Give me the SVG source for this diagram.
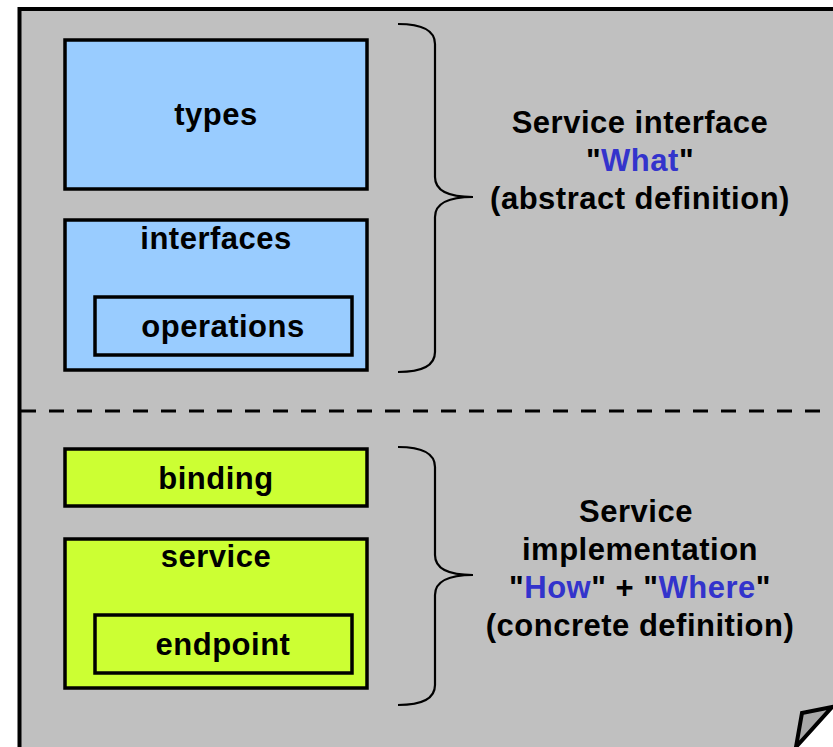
<svg xmlns="http://www.w3.org/2000/svg" width="833" height="747" viewBox="0 0 833 747">
<style>
.t{font-family:"Liberation Sans",Arial,sans-serif;font-weight:bold;font-size:31px;letter-spacing:0.5px;fill:#000;text-anchor:middle}
.hl{fill:#3333cc}
.bx{stroke:#000;stroke-width:3.5}
.blue{fill:#99ccff}
.green{fill:#ccff33}
.brace{fill:none;stroke:#000;stroke-width:2.2}
</style>
<rect width="833" height="747" fill="#fff"/>
<g id="page">
<rect x="19.5" y="9" width="830" height="760" fill="#c0c0c0" stroke="#000" stroke-width="4"/>
<polygon points="833,707 833,747 795,747" fill="#fff"/>
<polygon points="802,713 832,707 796,747" fill="#a8a8a8" stroke="#000" stroke-width="4" stroke-linejoin="miter"/>
</g>
<g id="connectors">
<line x1="21" y1="411" x2="833" y2="411" stroke="#000" stroke-width="3" stroke-dasharray="15 13"/>
<path class="brace" d="M398,24 Q435,24 435,44 L435,177 Q435,197 473,197 Q435,197 435,217 L435,352 Q435,372 398,372"/>
<path class="brace" d="M398,447 Q435,447 435,467 L435,555 Q435,575 473,575 Q435,575 435,595 L435,685 Q435,705 398,705"/>
</g>
<g id="types">
<rect class="bx blue" x="65" y="40" width="302" height="149"/>
<text class="t" x="216" y="125">types</text>
</g>
<g id="interfaces">
<rect class="bx blue" x="65" y="220" width="302" height="150"/>
<text class="t" x="216" y="249">interfaces</text>
</g>
<g id="operations">
<rect class="bx blue" x="95" y="297" width="257" height="58"/>
<text class="t" x="223" y="337">operations</text>
</g>
<g id="binding">
<rect class="bx green" x="65" y="449" width="302" height="57"/>
<text class="t" x="216" y="489">binding</text>
</g>
<g id="service">
<rect class="bx green" x="65" y="539" width="302" height="149"/>
<text class="t" x="216" y="567">service</text>
</g>
<g id="endpoint">
<rect class="bx green" x="95" y="615" width="257" height="58"/>
<text class="t" x="223" y="655">endpoint</text>
</g>
<g id="label-interface">
<text class="t" x="640" y="133">Service interface</text>
<text class="t" x="640" y="171">"<tspan class="hl">What</tspan>"</text>
<text class="t" x="640" y="209">(abstract definition)</text>
</g>
<g id="label-implementation">
<text class="t" x="636" y="522">Service</text>
<text class="t" x="640" y="560">implementation</text>
<text class="t" x="640" y="598">"<tspan class="hl">How</tspan>" + "<tspan class="hl">Where</tspan>"</text>
<text class="t" x="640" y="636">(concrete definition)</text>
</g>
</svg>
